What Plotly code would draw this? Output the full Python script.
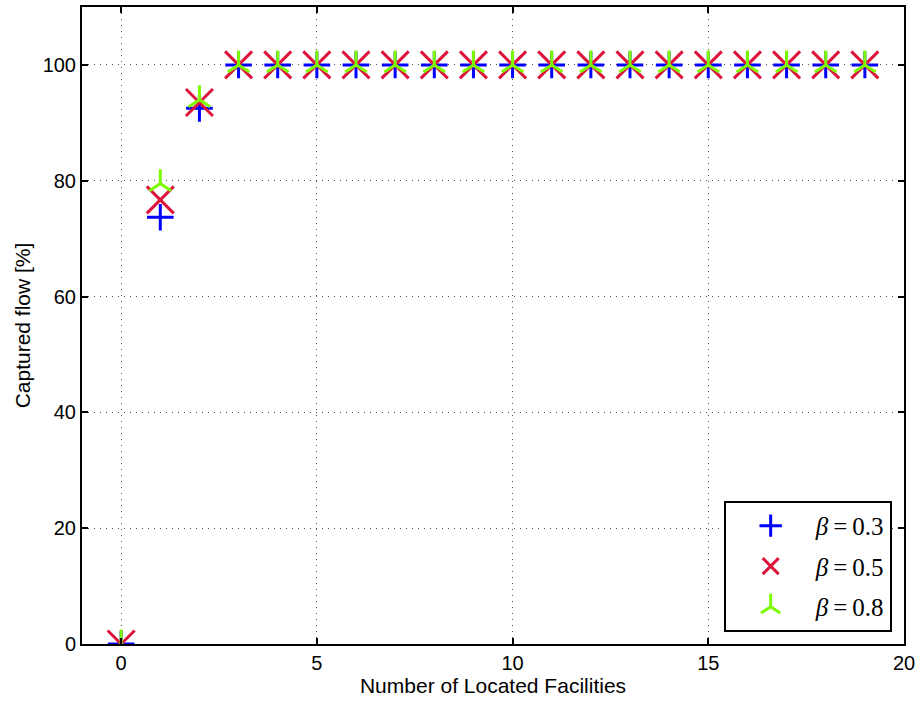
import plotly.graph_objects as go

facilities = list(range(20))
beta_03 = [0, 73.7, 92.5] + [100] * 17
beta_05 = [0, 76.7, 93.5] + [100] * 17
beta_08 = [0, 79.5, 94.0] + [100] * 17
labels = ["<i>β</i>\u2009=\u20090.3", "<i>β</i>\u2009=\u20090.5", "<i>β</i>\u2009=\u20090.8"]

fig = go.Figure()
fig.add_trace(go.Scatter(x=facilities, y=beta_03, mode="markers", name=labels[0], legendgroup="a",
                         marker=dict(symbol="cross-thin", size=19, color="#0000ff",
                                     line=dict(width=3, color="#0000ff"))))
fig.add_trace(go.Scatter(x=facilities, y=beta_05, mode="markers", name=labels[1], legendgroup="b",
                         marker=dict(symbol="x-thin", size=27, color="#dc143c",
                                     line=dict(width=3, color="#dc143c"))))
fig.add_trace(go.Scatter(x=facilities, y=beta_08, mode="markers", name=labels[2], legendgroup="c",
                         marker=dict(symbol="y-up", size=18, color="#7cfc00",
                                     line=dict(width=3, color="#7cfc00"))))

axis_common = dict(showline=True, linecolor="black", linewidth=2, mirror="ticks",
                   ticks="inside", ticklen=6, tickcolor="black", tickwidth=1.5,
                   showgrid=True, gridcolor="#555555", griddash="1px,5px", gridwidth=1,
                   zeroline=False,
                   tickfont=dict(family="Liberation Sans, Arial", size=20, color="black"),
                   title_font=dict(family="Liberation Sans, Arial", size=21, color="black"))

fig.update_xaxes(range=[-1, 20], tickvals=[0, 5, 10, 15, 20],
                 title_text="Number of Located Facilities", title_standoff=5, **axis_common)
fig.update_yaxes(range=[0, 110], tickvals=[0, 20, 40, 60, 80, 100],
                 title_text="Captured flow [%]", title_standoff=6, **axis_common)

fig.update_layout(
    width=920, height=706,
    margin=dict(l=82, r=14, t=5, b=62),
    plot_bgcolor="white", paper_bgcolor="white",
    legend=dict(x=0.985, y=0.019, xanchor="right", yanchor="bottom",
                bordercolor="black", borderwidth=2, bgcolor="white",
                font=dict(family="Liberation Serif, DejaVu Serif", size=25, color="black"),
                itemsizing="trace", itemwidth=80, tracegroupgap=5),
    showlegend=True,
)

fig.write_html("out.html")
